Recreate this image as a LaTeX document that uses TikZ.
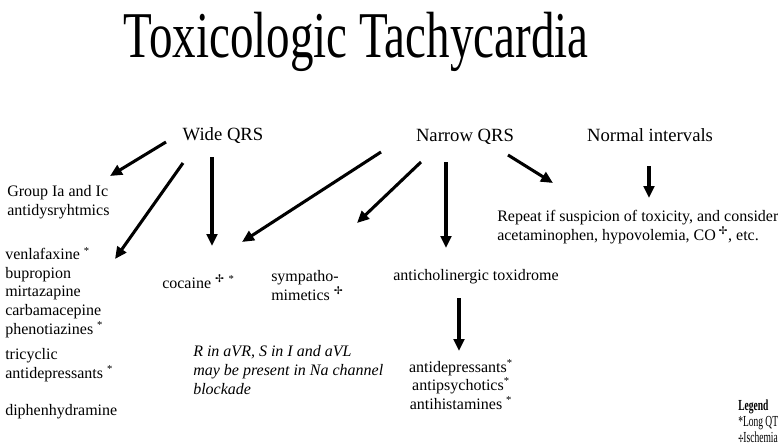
\documentclass[tikz,border=0pt]{standalone}
\usepackage{fontspec}
\setmainfont{Liberation Serif}
\newfontfamily\dejavu{DejaVu Sans}
\usetikzlibrary{arrows.meta}
\newcommand\isch{\textsuperscript{\dejavu ✢}}
\newcommand\lqt{\textsuperscript{*}}
\begin{document}
\begin{tikzpicture}[x=0.75pt,y=-0.75pt,
  arr/.style={line width=2.3pt, -{Triangle[length=9pt,width=8pt]}},
  txt/.style={font=\fontsize{12}{14.2}\selectfont, inner sep=0pt, align=left, anchor=base west},
  ctxt/.style={font=\fontsize{12}{13.8}\selectfont, inner sep=0pt, align=center, anchor=base},
  head/.style={font=\fontsize{14}{17}\selectfont, inner sep=0pt, anchor=base}]
\useasboundingbox (0,0) rectangle (778,444);
\node[inner sep=0pt, anchor=base, font=\fontsize{49}{58}\selectfont] (title) at (356,57) {\scalebox{0.72}[1]{Toxicologic Tachycardia}};
\node[head] (wide) at (223,140) {Wide QRS};
\node[head] (narrow) at (465,141) {Narrow QRS};
\node[head] (normal) at (650,141) {Normal intervals};
\node[txt] (group) at (7,215) {Group Ia and Ic\\antidysryhtmics};
\node[txt, font=\fontsize{12}{13.9}\selectfont] (venla) at (5,334) {venlafaxine \lqt\\bupropion\\mirtazapine\\carbamacepine\\phenotiazines \lqt};
\node[txt] (tca) at (5,378) {tricyclic\\antidepressants \lqt};
\node[txt] (diphen) at (5,415) {diphenhydramine};
\node[txt] (cocaine) at (162,288) {cocaine \isch\ \lqt};
\node[txt] (sympa) at (271,300) {sympatho-\\mimetics \isch};
\node[txt] (antichol) at (393,280) {anticholinergic toxidrome};
\node[txt, font=\fontsize{12}{13.9}\selectfont\itshape] (rnote) at (193,394) {R in aVR, S in I and aVL\\may be present in Na channel\\blockade};
\node[ctxt] (antidep) at (461,409) {antidepressants\lqt\\antipsychotics\lqt\\antihistamines \lqt};
\node[txt] (repeat) at (497,240) {Repeat if suspicion of toxicity, and consider\\acetaminophen, hypovolemia, CO\,\isch, etc.};
\node[txt, font=\fontsize{11.5}{12}\selectfont] (legend) at (738,442) {\scalebox{0.62}[1]{\textbf{Legend}}\\\scalebox{0.62}[1]{*Long QT}\\\scalebox{0.62}[1]{{\dejavu\fontsize{7.5}{8}\selectfont ✢}Ischemia}};
% arrow coordinates
\coordinate (w1s) at (166,142); \coordinate (w1e) at (110,176);
\coordinate (w2s) at (183,163); \coordinate (w2e) at (115,259);
\coordinate (w3s) at (212,157); \coordinate (w3e) at (212,246);
\coordinate (n1s) at (381,152); \coordinate (n1e) at (242,242);
\coordinate (n2s) at (421,162); \coordinate (n2e) at (357,223);
\coordinate (n3s) at (446,162); \coordinate (n3e) at (446,248);
\coordinate (n4s) at (508,155); \coordinate (n4e) at (553,183);
\coordinate (m1s) at (649,166); \coordinate (m1e) at (649,198);
\coordinate (a1s) at (459,298); \coordinate (a1e) at (459,351);
\draw[arr] (w1s) -- (w1e);
\draw[arr] (w2s) -- (w2e);
\draw[arr] (w3s) -- (w3e);
\draw[arr] (n1s) -- (n1e);
\draw[arr] (n2s) -- (n2e);
\draw[arr] (n3s) -- (n3e);
\draw[arr] (n4s) -- (n4e);
\draw[arr] (m1s) -- (m1e);
\draw[arr] (a1s) -- (a1e);
\end{tikzpicture}
\end{document}
